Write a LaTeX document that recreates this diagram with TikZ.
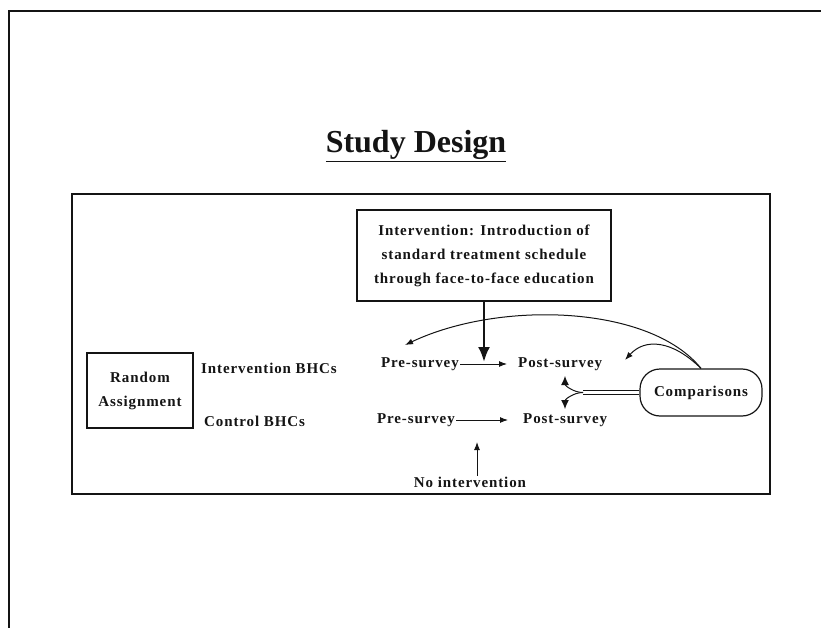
\documentclass[tikz,border=0pt]{standalone}
\usepackage{fontspec}
\usepackage{xcolor}
\usetikzlibrary{arrows.meta}
\setmainfont{Liberation Serif}
\newfontfamily\spacedfont{Liberation Serif}[LetterSpace=6]
\newcommand\lblfont{\spacedfont\fontsize{15}{19}\selectfont\bfseries}
\newcommand\boxfont{\spacedfont\fontsize{15}{24}\selectfont\bfseries}
\newcommand\headfont{\fontsize{32}{36}\selectfont\bfseries}
\definecolor{ink}{RGB}{20,20,20}
\tikzstyle{lbl}=[font=\lblfont, text=ink, inner sep=1pt]
\tikzstyle{frame}=[draw=ink, line width=1.2pt]
\tikzset{link/.style={-{Latex[length=8pt,width=6pt]}, draw=ink, line width=1pt}}

\begin{document}
\begin{tikzpicture}[x=1pt,y=-1pt]
  \useasboundingbox (0,0) rectangle (821,628);
  %% page frame
  \draw[ink, line width=1.6pt] (821,11) -- (9,11) -- (9,628);
  \draw (416,146) node[font=\headfont, text=ink] (title) {\underline{Study Design}};
  \draw[frame] (72,194) rectangle (770,494);

  \draw (484,255.5) node[lbl,font=\boxfont,frame,line width=1.8pt,minimum width=254pt,minimum height=91pt,align=center] (interv) {Intervention: Introduction of\\standard treatment schedule\\through face-to-face education};
  \draw (140,390.5) node[lbl,font=\boxfont,frame,minimum width=106pt,minimum height=75pt,align=center] (random) {Random\\Assignment};
  \draw (200,368) node[lbl,anchor=west] (ibhc) {Intervention BHCs};
  \draw (203,421) node[lbl,anchor=west] (cbhc) {Control BHCs};

  \draw (460,364) node[lbl,anchor=east] (pre1) {Pre-survey};
  \draw (517,364) node[lbl,anchor=west] (post1) {Post-survey};
  \draw (456,420) node[lbl,anchor=east] (pre2) {Pre-survey};
  \draw (522,420) node[lbl,anchor=west] (post2) {Post-survey};
  \draw (470,482) node[lbl] (noint) {No intervention};
  \draw (701,392.5) node[lbl,frame,rounded corners=20pt,minimum width=122pt,minimum height=47pt] (comp) {Comparisons};

  %% free ends
  \coordinate (hit) at (484,362);
  \coordinate (upnoint) at (477,442);
  \coordinate (pre1tip) at (405,345);
  \coordinate (post1tip) at (625,360);
  \coordinate (fork) at (583,392.5);
  \coordinate (uptip) at (565,376);
  \coordinate (downtip) at (565,409);

  \draw[link] (pre1.east) -- ([xshift=-10pt]post1.west);
  \draw[link] (pre2.east) -- ([xshift=-14pt]post2.west);
  \draw[-{Latex[length=15pt,width=12pt]}, ink, line width=2.6pt] (interv.south) -- (hit);
  \draw[link] (noint.north -| upnoint) -- (upnoint);

  %% comparisons
  \draw[link] (comp.north) .. controls (650,305) and (500,300) .. (pre1tip);
  \draw[link] (comp.north) .. controls (672,340) and (645,338) .. (post1tip);
  \draw[ink, double, double distance=2.5pt, line width=0.9pt] (comp.west) -- (fork);
  \draw[-{Latex[length=9pt,width=8pt]}, ink, line width=1pt] (fork) to[out=180,in=-90] (uptip);
  \draw[-{Latex[length=9pt,width=8pt]}, ink, line width=1pt] (fork) to[out=180,in=90] (downtip);
\end{tikzpicture}
\end{document}
